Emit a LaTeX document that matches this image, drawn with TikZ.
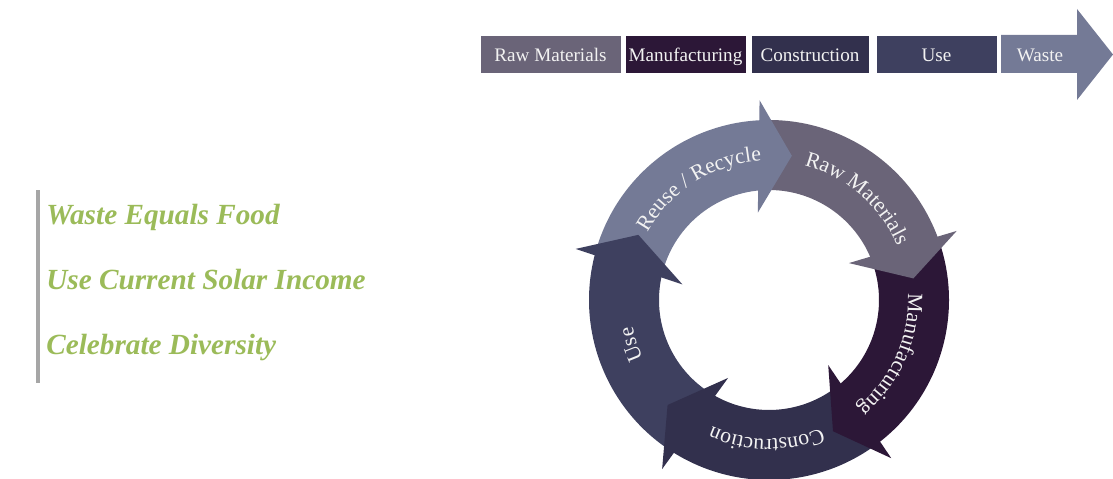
\documentclass[tikz,border=0pt]{standalone}
\usepackage{fontspec}
\setmainfont{Liberation Serif}
\usetikzlibrary{decorations.text}

\definecolor{rawcol}{HTML}{6A6478}
\definecolor{manucol}{HTML}{2C1737}
\definecolor{conscol}{HTML}{32304D}
\definecolor{usecol}{HTML}{3E405F}
\definecolor{reusecol}{HTML}{747A96}
\definecolor{ideacol}{HTML}{9BBB59}
\definecolor{labelcol}{HTML}{F2F2F2}

\newcommand{\ringfont}{\fontsize{15.5}{18}\selectfont\color{labelcol}}

\tikzset{
  stage/.style={draw=white, line width=0.6pt, text=labelcol, minimum height=0.95cm,
    inner sep=0pt, text height=1.05em, text depth=0pt, font=\fontsize{13.6}{16}\selectfont},
  idea/.style={anchor=base west, text=ideacol, inner sep=0pt,
    font=\fontsize{20.8}{24}\selectfont\bfseries\itshape},
  ringtext/.style={decorate, decoration={text along path, text align=center, text={|\ringfont|#1}}}
}

\begin{document}
\begin{tikzpicture}[x=0.025cm, y=0.025cm]
  \useasboundingbox (0,0) rectangle (1113,479);

  % linear chain along the top
  \node[stage, fill=rawcol, minimum width=3.525cm] (lraw) at (550.5,425) {Raw Materials};
  \node[stage, fill=manucol, minimum width=3.025cm] (lmanu) at (685.5,425) {Manufacturing};
  \node[stage, fill=conscol, minimum width=2.95cm] (lcons) at (810,425) {Construction};
  \node[stage, fill=usecol, minimum width=3.025cm] (luse) at (936.5,425) {Use};
  \fill[reusecol] (1001,406) -- (1077,406) -- (1077,379) -- (1113,424.5)
    -- (1077,470) -- (1077,444) -- (1001,444) -- cycle;
  \node[stage, draw=none] (lwaste) at (1040,425) {Waste};

  % principles
  \draw[black!35, line width=2.2pt] (38,96) -- (38,289);
  \node[idea] (food) at (46,254) {Waste Equals Food};
  \node[idea] (solar) at (46,189) {Use Current Solar Income};
  \node[idea] (diversity) at (46,124) {Celebrate Diversity};

  % closed cycle
  \begin{scope}[shift={(769,179)}]
    \foreach \s/\e/\c in {164.5/92/reusecol, 92/19.5/rawcol, 19.5/-53/manucol,
                          -53/-123/conscol, -123/-195.5/usecol}
      \fill[\c] (\s:180) arc[start angle=\s, end angle=\e, radius=180]
        -- (\e:110) arc[start angle=\e, end angle=\s, radius=110] -- cycle;
    % arrow heads on top
    \foreach \b/\c in {95/reusecol, 22.5/rawcol, -50/manucol, -120/conscol, 167.5/usecol}
      \fill[\c] (\b+2.3:88) -- (\b-14:146) -- (\b-2.3:200) -- cycle;

    \path[ringtext=Reuse / Recycle] (162:139) arc[start angle=162, end angle=82, radius=139];
    \path[ringtext=Raw Materials] (89:139) arc[start angle=89, end angle=9, radius=139];
    \path[ringtext=Manufacturing] (16:139) arc[start angle=16, end angle=-64, radius=139];
    \path[ringtext=Construction] (-51:139) arc[start angle=-51, end angle=-131, radius=139];
    \path[ringtext=Use] (238:139) arc[start angle=238, end angle=158, radius=139];
  \end{scope}
\end{tikzpicture}
\end{document}
